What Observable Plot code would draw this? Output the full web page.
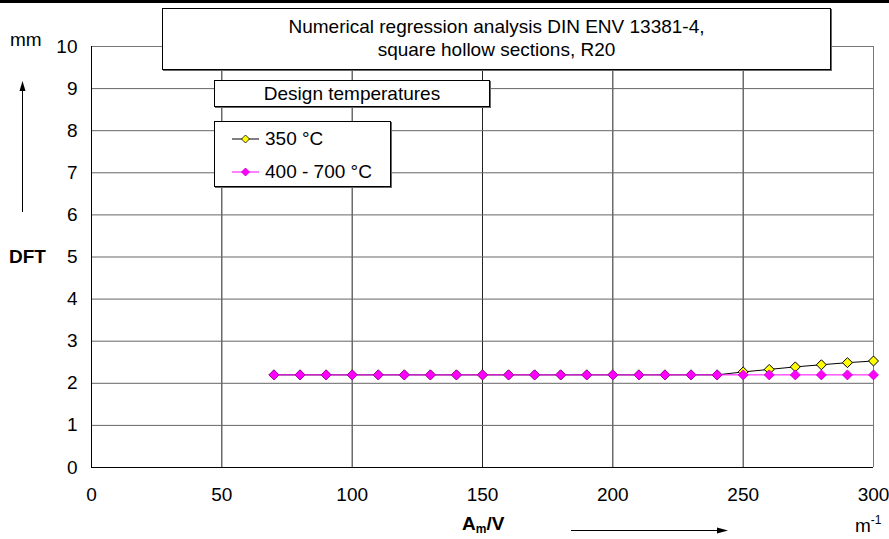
<!DOCTYPE html>
<html><head><meta charset="utf-8">
<script src="https://cdn.jsdelivr.net/npm/d3@7"></script>
<script src="https://cdn.jsdelivr.net/npm/@observablehq/plot@0.6"></script>
<style>
body{margin:0;background:#fff;font-family:Arial,"Liberation Sans",sans-serif;}
#wrap{position:relative;width:889px;height:539px;overflow:hidden}
#topbar{position:absolute;left:0;top:0;width:889px;height:3px;background:#000}
.box{position:absolute;background:#fff;border:1px solid #000;box-shadow:1px 1px 0 #666;font-size:19px;color:#000;box-sizing:border-box}
.lbl{position:absolute;font-size:19px;color:#000;white-space:nowrap;line-height:20px}
</style></head>
<body><div id="wrap"><div id="topbar"></div><div id="chart"></div></div>
<script>
const xs = [70,80,90,100,110,120,130,140,150,160,170,180,190,200,210,220,230,240,250,260,270,280,290,300];
const dft350 = [2.2,2.2,2.2,2.2,2.2,2.2,2.2,2.2,2.2,2.2,2.2,2.2,2.2,2.2,2.2,2.2,2.2,2.2,2.27,2.33,2.39,2.44,2.49,2.53];
const dft400 = [2.2,2.2,2.2,2.2,2.2,2.2,2.2,2.2,2.2,2.2,2.2,2.2,2.2,2.2,2.2,2.2,2.2,2.2,2.2,2.2,2.2,2.2,2.2,2.2];
const xTicks = [0,50,100,150,200,250,300];
const yTicks = [0,1,2,3,4,5,6,7,8,9,10];
const seriesNames = ["350 °C","400 - 700 °C"];
const titleLines = ["Numerical regression analysis DIN ENV 13381-4,","square hollow sections, R20"];
const legendTitle = "Design temperatures";

const d350 = xs.map((x,i)=>({x, y: dft350[i]}));
const d400 = xs.map((x,i)=>({x, y: dft400[i]}));

const plot = Plot.plot({
  width: 889, height: 539,
  marginLeft: 91, marginRight: 16, marginTop: 46, marginBottom: 72,
  style: {fontFamily: "Arial, 'Liberation Sans', sans-serif", fontSize: "19px", color: "#000", background: "transparent"},
  x: {domain: [0,300], label: null},
  y: {domain: [0,10], label: null},
  marks: [
    Plot.gridX(xTicks.filter(d=>d>0 && d<300), {stroke: "#222", strokeOpacity: 1, strokeWidth: 1}),
    Plot.gridY(yTicks.filter(d=>d>0 && d<10), {stroke: "#666", strokeOpacity: 1, strokeWidth: 1}),
    Plot.ruleX([300], {stroke: "#777"}),
    Plot.ruleY([10], {stroke: "#777"}),
    Plot.ruleX([0], {stroke: "#000"}),
    Plot.ruleY([0], {stroke: "#000"}),
    Plot.axisX({ticks: xTicks, tickSize: 0, tickPadding: 20, fontSize: 19, tickFormat: d=>String(d)}),
    Plot.axisY({ticks: yTicks, tickSize: 0, tickPadding: 14, fontSize: 19}),
    Plot.line(d350, {x:"x", y:"y", stroke:"#000", strokeWidth:1}),
    Plot.dot(d350, {x:"x", y:"y", symbol:"diamond2", r:4.5, fill:"#ffff00", stroke:"#000", strokeWidth:1}),
    Plot.line(d400, {x:"x", y:"y", stroke:"#ff00ff", strokeWidth:1}),
    Plot.dot(d400, {x:"x", y:"y", symbol:"diamond2", r:4.5, fill:"#ff00ff", stroke:"#c000c0", strokeWidth:0.8})
  ]
});
plot.style.position = "absolute";
plot.style.left = "0px";
plot.style.top = "0px";
document.getElementById("chart").appendChild(plot);

const wrap = document.getElementById("wrap");
function add(html, cls, css){ const d=document.createElement("div"); d.className=cls; d.innerHTML=html; Object.assign(d.style, css); wrap.appendChild(d); return d; }

// title box
add(titleLines.join("<br>"), "box", {left:"162px", top:"8px", width:"669px", height:"62px", textAlign:"center", lineHeight:"23px", display:"flex", alignItems:"center", justifyContent:"center", paddingBottom:"2px"});
// legend title
add(legendTitle, "box", {left:"214px", top:"80px", width:"276px", height:"27px", textAlign:"center", lineHeight:"25px"});
// legend
const leg = add("", "box", {left:"214px", top:"121px", width:"177px", height:"66px"});
const colors = [{line:"#000", fill:"#ffff00", stroke:"#000"},{line:"#ff00ff", fill:"#ff00ff", stroke:"#c000c0"}];
seriesNames.forEach((n,i)=>{
  const row = document.createElement("div");
  row.style.cssText = `position:absolute;left:17px;top:${i===0?6:39}px;height:22px;display:flex;align-items:center;font-size:19px;white-space:nowrap`;
  row.innerHTML = `<svg width="28" height="12" style="margin-right:5px"><line x1="0" y1="6" x2="27" y2="6" stroke="${colors[i].line}"/><path d="M13.5,2 L17.5,6 L13.5,10 L9.5,6Z" fill="${colors[i].fill}" stroke="${colors[i].stroke}" stroke-width="0.8"/></svg>${n}`;
  leg.appendChild(row);
});

// axis side labels
add("mm", "lbl", {left:"10px", top:"30px"});
add("<b>DFT</b>", "lbl", {left:"9px", top:"247px"});
add("<b>A<span style='font-size:12px;position:relative;top:3px'>m</span>/V</b>", "lbl", {left:"462px", top:"514px"});
add("m<span style='font-size:12px;position:relative;top:-8px'>-1</span>", "lbl", {left:"855px", top:"516px"});
// arrows
const arr = document.createElementNS("http://www.w3.org/2000/svg","svg");
arr.setAttribute("width","889"); arr.setAttribute("height","539");
arr.style.cssText="position:absolute;left:0;top:0;pointer-events:none";
arr.innerHTML = `<line x1="22.5" y1="212" x2="22.5" y2="90" stroke="#000"/><path d="M22.5,81 L19.5,91 L25.5,91Z" fill="#000"/>
<line x1="571" y1="530.5" x2="718" y2="530.5" stroke="#000"/><path d="M728,530.5 L717,527.5 L717,533.5Z" fill="#000"/>`;
wrap.appendChild(arr);
</script>
</body></html>
